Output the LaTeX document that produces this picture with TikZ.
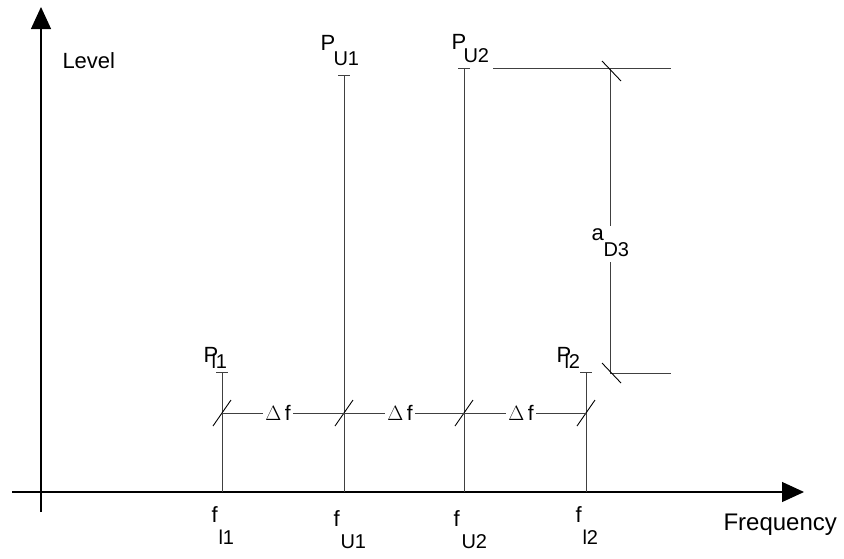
\documentclass[tikz,border=0pt]{standalone}
\usepackage{fontspec}
\setmainfont{Liberation Sans}
\usetikzlibrary{arrows.meta}
\begin{document}
\begin{tikzpicture}[x=1pt,y=-1pt, line width=1pt,
  ln/.style={draw=black!75},
  slash/.style={draw=black, line width=0.9pt},
  big/.style={inner sep=0pt, anchor=base west, font=\fontsize{22}{26}\selectfont},
  sub/.style={inner sep=0pt, anchor=base west, font=\fontsize{20}{24}\selectfont},
  dlab/.style={inner sep=2pt, font=\fontsize{21}{24}\selectfont},
  ax/.style={draw=black, line width=1.2pt, -{Triangle[length=22pt,width=20pt]}}]
\useasboundingbox (0,0) rectangle (844,558);
% axes
\coordinate (yb) at (41,512); \coordinate (yt) at (41,7);
\coordinate (xl) at (12,492); \coordinate (xr) at (804,492);
\draw[ax] (yb) -- (yt);
\draw[ax] (xl) -- (xr);
\node[big] (lev) at (62,68) {Level};
\node[big, font=\fontsize{24}{27}\selectfont] (freq) at (723,530) {Frequency};
% spectral lines
\foreach \n/\x/\t in {l1/222/372, U1/344/75, U2/464/68, l2/586/372} {
  \coordinate (b\n) at (\x,492); \coordinate (t\n) at (\x,\t);
  \draw[ln] (b\n) -- (t\n);
  \draw[ln] ([xshift=-6pt]t\n) -- ([xshift=6pt]t\n);
  \coordinate (d\n) at (\x,413);
  \draw[slash] ([xshift=-9pt,yshift=-13pt]d\n) -- ([xshift=9pt,yshift=13pt]d\n);
}
% peak labels
\node[big] (pU1) at (320,50) {P}; \node[sub] (sU1) at (333,65) {U1};
\node[big] (pU2) at (451,49) {P}; \node[sub] (sU2) at (463,62) {U2};
\node[big] (pl1) at (203,362) {P}; \node[sub] (sl1) at (211,368) {l1};
\node[big] (pl2) at (556,362) {P}; \node[sub] (sl2) at (564,368) {l2};
% frequency labels
\node[big] (fl1) at (211,522) {f}; \node[sub] (gl1) at (218,544) {l1};
\node[big] (fU1) at (333,526) {f}; \node[sub] (gU1) at (340,548) {U1};
\node[big] (fU2) at (453,526) {f}; \node[sub] (gU2) at (461,548) {U2};
\node[big] (fl2) at (575,522) {f}; \node[sub] (gl2) at (582,544) {l2};
% delta f
\node[dlab] (df1) at (278,413) {$\Delta$\,f};
\node[dlab] (df2) at (400,413) {$\Delta$\,f};
\node[dlab] (df3) at (521,413) {$\Delta$\,f};
\draw[ln] (dl1) -- (df1.west); \draw[ln] (df1.east) -- (dU1);
\draw[ln] (dU1) -- (df2.west); \draw[ln] (df2.east) -- (dU2);
\draw[ln] (dU2) -- (df3.west); \draw[ln] (df3.east) -- (dl2);
% right dimension
\coordinate (h1a) at (493,68); \coordinate (h1b) at (671,68);
\coordinate (h2a) at (610,373); \coordinate (h2b) at (671,373);
\coordinate (v1) at (610,68); \coordinate (v2) at (610,373);
\draw[ln] (h1a) -- (h1b);
\draw[ln] (h2a) -- (h2b);
\node[big] (aa) at (591,240) {a}; \node[sub] (aD) at (603,256) {D3};
\draw[ln] (v1) -- (610,226);
\draw[ln] (610,262) -- (v2);
\draw[slash] ([xshift=-8pt,yshift=7pt]v1) -- ([xshift=11pt,yshift=-13pt]v1);
\draw[slash] ([xshift=-8pt,yshift=10pt]v2) -- ([xshift=11pt,yshift=-10pt]v2);
\end{tikzpicture}
\end{document}
